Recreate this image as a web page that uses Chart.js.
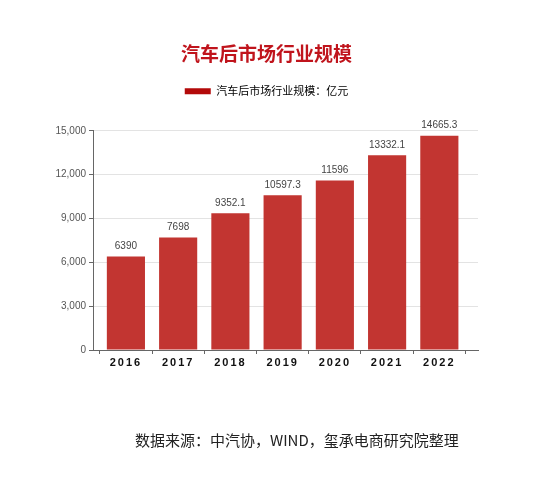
<!DOCTYPE html>
<html>
<head>
<meta charset="utf-8">
<script src="https://cdn.jsdelivr.net/npm/chart.js@4/dist/chart.umd.min.js"></script>
<style>
  html, body { margin: 0; padding: 0; background: #fff; }
  #wrap { position: relative; width: 550px; height: 481px; }
  #source {
    position: absolute; left: 135px; top: 429px;
    font: 15px "Noto Sans CJK SC", sans-serif; color: #222; white-space: nowrap;
  }
</style>
</head>
<body>
<div id="wrap">
  <canvas id="chart" width="550" height="481"></canvas>
  <div id="source">数据来源：中汽协，WIND，玺承电商研究院整理</div>
</div>
<script>
const years = ['2016', '2017', '2018', '2019', '2020', '2021', '2022'];
const scaleValues = [6390, 7698, 9352.1, 10597.3, 11596, 13332.1, 14665.3];
const valueLabels = ['6390', '7698', '9352.1', '10597.3', '11596', '13332.1', '14665.3'];
const titleText = '汽车后市场行业规模';
const seriesName = '汽车后市场行业规模：亿元';

const cjk = '"Noto Sans CJK SC", sans-serif';
const latin = '"Liberation Sans", Arial, sans-serif';

// push the plot area down below the legend
const legendGap = {
    id: 'legendGap',
    beforeInit(chart) {
        const fit = chart.legend.fit;
        chart.legend.fit = function () {
            fit.bind(chart.legend)();
            this.height += 24;
        };
    }
};

// spaced year labels on the x axis
const spacedX = {
    id: 'spacedX',
    beforeDraw(chart) {
        const xs = chart.scales.x;
        if (xs._spaced) return;
        const orig = xs.drawLabels.bind(xs);
        xs.drawLabels = function (area) {
            chart.ctx.save();
            chart.ctx.letterSpacing = '2px';
            orig(area);
            chart.ctx.restore();
        };
        xs._spaced = true;
    }
};

// value labels above each bar
const barValues = {
    id: 'barValues',
    afterDatasetsDraw(chart) {
        const ctx = chart.ctx;
        const meta = chart.getDatasetMeta(0);
        ctx.save();
        ctx.font = '10px ' + latin;
        ctx.fillStyle = '#444';
        ctx.textAlign = 'center';
        ctx.textBaseline = 'bottom';
        meta.data.forEach((bar, i) => {
            ctx.fillText(valueLabels[i], bar.x, bar.y - 5);
        });
        ctx.restore();
    }
};

new Chart(document.getElementById('chart'), {
    type: 'bar',
    data: {
        labels: years,
        datasets: [{
            label: seriesName,
            data: scaleValues,
            backgroundColor: '#c23531',
            borderWidth: 0,
            categoryPercentage: 1,
            barPercentage: 0.73
        }]
    },
    options: {
        responsive: false,
        animation: false,
        layout: { padding: { left: 55, right: 72, top: 0, bottom: 111 } },
        plugins: {
            title: {
                display: true,
                text: titleText,
                color: '#c0141c',
                font: { family: cjk, size: 19, weight: 'bold' },
                padding: { top: 42, bottom: 11 }
            },
            legend: {
                display: true,
                labels: {
                    boxWidth: 26,
                    boxHeight: 6,
                    color: '#333',
                    font: { family: cjk, size: 11 },
                    generateLabels: () => [{
                        text: seriesName,
                        fillStyle: '#b30a0a',
                        strokeStyle: '#b30a0a',
                        lineWidth: 0
                    }]
                },
                onClick: null
            },
            tooltip: { enabled: false }
        },
        scales: {
            x: {
                type: 'linear',
                min: 2015.37,
                max: 2022.74,
                offset: false,
                afterBuildTicks(scale) {
                    scale.ticks = years.map(y => ({ value: Number(y) }));
                },
                grid: {
                    display: true,
                    offset: true,
                    drawOnChartArea: false,
                    tickLength: 4,
                    tickColor: '#666'
                },
                border: { color: '#666' },
                ticks: {
                    color: '#111',
                    padding: 2,
                    autoSkip: false,
                    maxRotation: 0,
                    font: { family: latin, size: 11, weight: 'bold' },
                    callback: v => String(v)
                },
                afterFit(scale) { scale.height = 20; }
            },
            y: {
                min: 0,
                max: 15000,
                ticks: {
                    stepSize: 3000,
                    color: '#555',
                    padding: 3,
                    font: { family: latin, size: 10 },
                    callback: v => v.toLocaleString('en-US')
                },
                grid: {
                    color: '#e3e3e3',
                    tickLength: 4,
                    tickColor: '#666'
                },
                border: { color: '#666' },
                afterFit(scale) { scale.width = 38; }
            }
        }
    },
    plugins: [legendGap, spacedX, barValues]
});
</script>
</body>
</html>
